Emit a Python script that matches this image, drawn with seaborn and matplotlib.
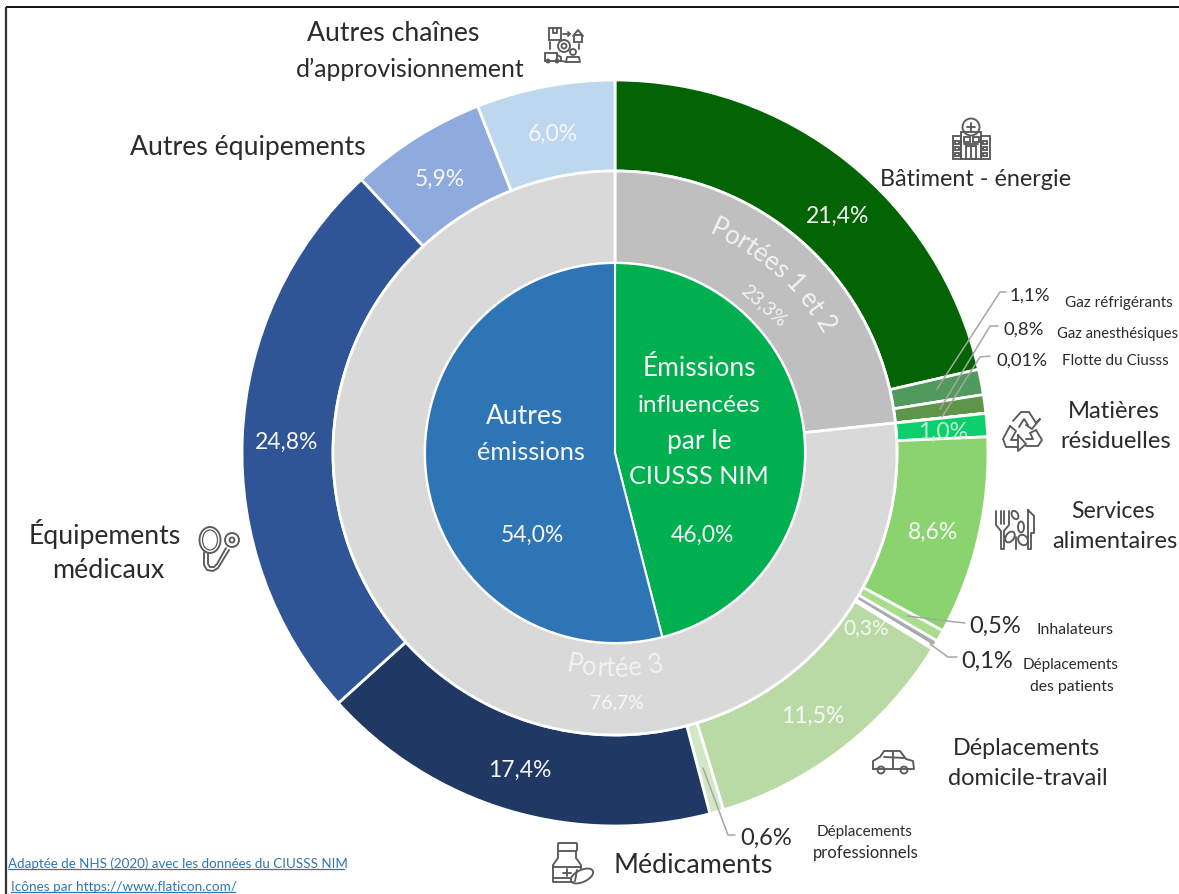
import numpy as np
import matplotlib
matplotlib.use("Agg")
import matplotlib.pyplot as plt
from matplotlib.patches import Circle, Rectangle, FancyBboxPatch, Ellipse
from matplotlib.textpath import TextPath
from matplotlib.font_manager import FontProperties
import seaborn as sns

sns.set_theme(style="white")
plt.rcParams["font.family"] = ["Lato", "DejaVu Sans"]

# ---- data ----
outer_names = ["Bâtiment - énergie", "Gaz réfrigérants", "Gaz anesthésiques", "Flotte du Ciusss",
               "Matières résiduelles", "Services alimentaires", "Inhalateurs", "Autres déplacements",
               "Déplacements des patients", "Déplacements domicile-travail",
               "Déplacements professionnels", "Médicaments", "Équipements médicaux",
               "Autres équipements", "Autres chaînes d'approvisionnement"]
outer_values = [21.4, 1.1, 0.8, 0.01, 1.0, 8.6, 0.5, 0.3, 0.1, 11.5, 0.6, 17.4, 24.8, 5.9, 6.0]
outer_colors = ["#036403", "#4F9A5C", "#5F9548", "#5F9548", "#0BCF6C", "#8AD36F", "#A8DD8E", "#A9A9B0",
                "#A9A9B0", "#B9DAA5", "#D2E7C6", "#1F3864", "#2F5597", "#8FAADC", "#BDD7EE"]
middle_names = ["Portées 1 et 2", "Portée 3"]
middle_values = [23.3, 76.7]
middle_colors = ["#BFBFBF", "#D9D9D9"]
inner_names = ["Émissions influencées par le CIUSSS NIM", "Autres émissions"]
inner_values = [46.0, 54.0]
inner_colors = ["#00B050", "#2E75B6"]

W, H = 1179, 895
CX, CY = 615, 454
fig = plt.figure(figsize=(W / 100, H / 100), dpi=100, facecolor="white")
ax = fig.add_axes([0, 0, 1, 1])


def Y(py):
    return H - py


common = dict(startangle=90, counterclock=False, center=(CX, Y(CY)))
ax.pie(outer_values, colors=sns.color_palette(outer_colors), radius=373,
       wedgeprops=dict(width=91, edgecolor="white", linewidth=2), **common)
ax.pie(middle_values, colors=sns.color_palette(middle_colors), radius=282,
       wedgeprops=dict(width=92, edgecolor="white", linewidth=2), **common)
ax.pie(inner_values, colors=sns.color_palette(inner_colors), radius=190,
       wedgeprops=dict(edgecolor="white", linewidth=1.5), **common)
ax.set_xlim(0, W)
ax.set_ylim(0, H)
ax.set_aspect("equal")
ax.axis("off")

# picture frame: top and left only
ax.plot([6, W], [Y(8), Y(8)], color="black", lw=1.3, solid_capstyle="butt")
ax.plot([6, 6], [Y(8), 0], color="#333333", lw=1.6, solid_capstyle="butt")

DARK = "#2B2B2B"
WHITE = "#F7F7F7"


def T(px, py, s, size=16, color=DARK, **kw):
    kw.setdefault("ha", "center")
    ax.text(px, Y(py + 2), s, fontsize=size, color=color, va="center", zorder=6, **kw)


# white labels inside the rings
for px, py, s in [(838, 214, "21,4%"), (553, 132, "6,0%"), (440, 177, "5,9%"), (287, 440, "24,8%"),
                  (520, 768, "17,4%"), (813, 714, "11,5%"), (933, 530, "8,6%")]:
    T(px, py, s, size=16.5, color=WHITE)
T(943, 430, "1,0%", size=16.5, color="#BFF0CF")
T(866, 626, "0,3%", size=15, color="#F4F8EF")

# centre labels
T(525, 414, "Autres", size=19, color=WHITE)
T(531, 450, "émissions", size=18.3, color=WHITE)
T(532, 533, "54,0%", size=16.5, color=WHITE)
for py, s, fs in [(367, "Émissions", 19), (403, "influencées", 17.6), (439, "par le", 19), (475, "CIUSSS NIM", 18.2)]:
    T(699, py, s, size=fs, color=WHITE)
T(702, 533, "46,0%", size=16.5, color=WHITE)

# category labels
for px, py, s, fs in [(393, 31, "Autres chaînes", 19.2), (410, 67, "d’approvisionnement", 17.8),
                      (248, 146, "Autres équipements", 19.2), (976, 178, "Bâtiment - énergie", 16.8),
                      (1114, 410, "Matières", 17.2), (1116, 439, "résiduelles", 17.2),
                      (1113, 509, "Services", 16.6), (1115, 540, "alimentaires", 17),
                      (1026, 747, "Déplacements", 16.8), (1028, 777, "domicile-travail", 17),
                      (693, 864, "Médicaments", 19.4), (105, 532, "Équipements", 19.2), (108, 568, "médicaux", 19.4)]:
    T(px, py, s, size=fs)

# small value labels and names
for px, py, s, fs in [(1030, 294, "1,1%", 13.3), (1024, 328, "0,8%", 13.3), (1022, 359, "0,01%", 13.3),
                      (995, 624, "0,5%", 17), (987, 659, "0,1%", 17), (766, 836, "0,6%", 17)]:
    T(px, py, s, size=fs)
for px, py, s, fs in [(1119, 301, "Gaz réfrigérants", 11), (1118, 332, "Gaz anesthésiques", 10.6),
                      (1115, 359, "Flotte du Ciusss", 11), (1075, 628, "Inhalateurs", 11.3),
                      (1071, 663, "Déplacements", 11), (1072, 685, "des patients", 11.3),
                      (865, 830, "Déplacements", 11), (866, 851, "professionnels", 12)]:
    T(px, py, s, size=fs)

# sources
LINK = "#2E75B6"
T(8, 862, "Adaptée de NHS (2020) avec les données du CIUSSS NIM", size=9.65, color=LINK, ha="left")
T(11, 885, "Icônes par https://www.flaticon.com/", size=9.7, color=LINK, ha="left")
ax.plot([8, 344], [Y(870), Y(870)], color=LINK, lw=0.9)
ax.plot([11, 235], [Y(893), Y(893)], color=LINK, lw=0.9)


# curved labels
def arc_text(s, mid_deg, radius, size, bottom=False, color="#F2F2F2"):
    fp = FontProperties(family="Lato", size=size)
    scale = 100 / 72
    adv = []
    for i in range(len(s)):
        w = TextPath((0, 0), s[: i + 1] + "|", prop=fp).get_extents().width
        w0 = TextPath((0, 0), "|", prop=fp).get_extents().width
        adv.append((w - w0) * scale)
    total = adv[-1]
    prev = 0.0
    for ch, a in zip(s, adv):
        centre = (prev + a) / 2 - total / 2
        prev = a
        dth = np.degrees(centre / radius)
        th = mid_deg - dth if bottom else mid_deg + dth
        rot = 180 - th if bottom else -th
        x = CX + radius * np.sin(np.radians(th))
        y = Y(CY) + radius * np.cos(np.radians(th))
        ax.text(x, y, ch, fontsize=size, color=color, rotation=rot, rotation_mode="anchor",
                ha="center", va="center", zorder=6)


arc_text("Portées 1 et 2", 41.5, 247, 18.5)
arc_text("Portée 3", 180, 215, 18.5, bottom=True)
T(764, 304, "23,3%", size=14, color="#F2F2F2", rotation=-41, rotation_mode="anchor")
T(617, 701, "76,7%", size=14, color="#F7F7F7")

# leader lines
LEAD = "#A6A6A6"
for pts in [[(1006, 293), (1000, 293), (937, 390)],
            [(998, 327), (990, 327), (940, 410)],
            [(990, 357), (980, 358), (942, 418)],
            [(965, 624), (947, 622), (907, 617)],
            [(957, 658), (948, 658), (930, 645)],
            [(735, 836), (728, 836), (703, 769)]]:
    xs, ys = zip(*pts)
    ax.plot(xs, [Y(v) for v in ys], color=LEAD, lw=1.1, zorder=5)

# ---- line-art icons ----
IC = "#5A5A5A"
ILW = 1.35


def L(*pts, lw=ILW):
    xs, ys = zip(*pts)
    ax.plot(xs, [Y(v) for v in ys], color=IC, lw=lw, zorder=6, solid_capstyle="round")


def R(x0, y0, x1, y1, lw=ILW):
    ax.add_patch(Rectangle((x0, Y(y1)), x1 - x0, y1 - y0, fill=False, ec=IC, lw=lw, zorder=6))


def C(x, y, r, lw=ILW):
    ax.add_patch(Circle((x, Y(y)), r, fill=False, ec=IC, lw=lw, zorder=6))


def RR(x, y, w, h, ang=0, lw=ILW):
    ax.add_patch(Ellipse((x, Y(y)), w, h, angle=ang, fill=False, ec=IC, lw=lw, zorder=6))


# hospital
C(971, 128, 8.5)
L((967, 128), (975, 128))
L((971, 124), (971, 132))
R(961, 133, 981, 160)
R(953, 137, 961, 160)
R(981, 137, 990, 160)
R(964, 138, 970, 143)
R(973, 138, 979, 143)
R(966, 147, 976, 160)
L((971, 147), (971, 160))
L((964, 145), (978, 145))
for yy in (142, 148, 154):
    R(955, yy, 959, yy + 3)
    R(983, yy, 987, yy + 3)

# supply chain
R(549, 29, 561, 41)
L((553, 29), (553, 34), (557, 34), (557, 29))
L((563, 35), (570, 35))
L((568, 33), (570, 35), (568, 37))
R(574, 36, 582, 43)
L((573, 37), (578, 31), (583, 37))
C(564, 47, 6)
C(564, 47, 2.5)
L((550, 43), (550, 50))
R(545, 54, 557, 62)
L((557, 56), (561, 58), (561, 62), (557, 62))
C(548, 62, 1.5)
C(557, 62, 1.5)
L((561, 62), (568, 63))
C(573, 53, 3)
L((566, 63), (567, 58), (579, 58), (580, 63), (566, 63))
L((579, 45), (579, 50))

# stethoscope
RR(210, 541, 21, 26)
RR(210, 541, 15, 20, lw=0.9)
L((204, 553), (204, 566), (207, 571), (213, 572), (218, 569), (229, 551))
L((208, 554), (208, 565), (210, 568), (214, 568), (217, 565), (226, 549))
C(232, 541, 7)
C(232, 541, 2.5)

# recycle
L((1013, 422), (1021, 413), (1029, 413), (1036, 424))
L((1019, 428), (1024, 420), (1028, 426))
L((1036, 424), (1040, 420), (1032, 430), (1026, 426))
L((1010, 427), (1003, 440), (1006, 448), (1018, 448))
L((1010, 427), (1016, 432), (1011, 441), (1018, 441))
L((1018, 436), (1018, 452), (1026, 445), (1018, 436))
L((1026, 447), (1038, 447), (1042, 441), (1036, 431))
L((1026, 440), (1033, 440), (1030, 434), (1036, 431))

# cutlery
L((996, 512), (996, 526), (1001, 532), (1001, 550), (1004, 550), (1004, 532), (1009, 526), (1009, 512))
L((1001, 512), (1001, 525))
L((1004, 512), (1004, 525))
L((1028, 511), (1034, 517), (1034, 534), (1031, 534), (1031, 550), (1028, 550), (1028, 511))
RR(1015, 516, 6, 9, 30)
RR(1021, 528, 6, 11, 0)
RR(1010, 538, 8, 12, -35)
RR(1023, 541, 9, 11, 35)
L((1016, 538), (1016, 550))

# car
L((873, 770), (873, 762), (880, 758), (884, 752), (900, 752), (906, 760), (913, 762), (914, 770), (873, 770))
L((884, 758), (905, 759))
L((893, 752), (893, 770))
C(881, 771, 3.5)
C(904, 771, 3.5)

# medicine bottle
ax.add_patch(FancyBboxPatch((559, Y(851)), 17, 6, boxstyle="round,pad=1", fill=False, ec=IC, lw=ILW, zorder=6))
L((558, 852), (558, 859), (553, 866), (553, 883), (573, 883))
L((576, 852), (576, 859), (581, 866), (581, 870))
L((553, 868), (581, 868))
L((553, 879), (570, 879))
L((567, 870), (567, 877))
L((563, 873.5), (571, 873.5))
RR(582, 877, 24, 12, 25)
L((577, 871), (575, 882))

fig.savefig("out.png", dpi=100, facecolor="white")
